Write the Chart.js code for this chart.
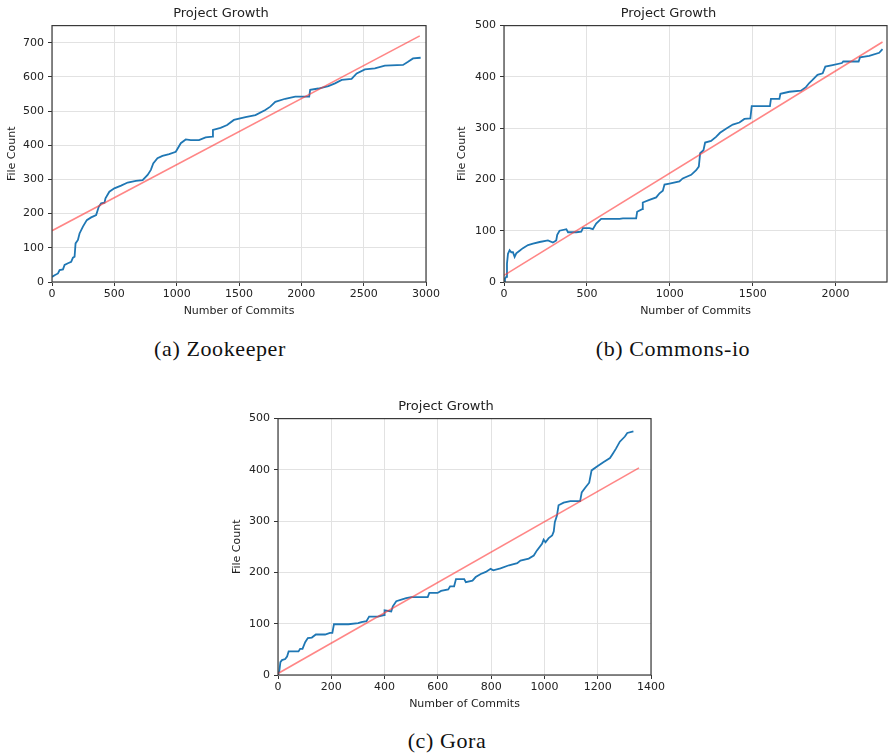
<!DOCTYPE html>
<html>
<head>
<meta charset="utf-8">
<script src="https://cdn.jsdelivr.net/npm/chart.js@4"></script>
<style>
body { margin: 0; background: #fff; width: 888px; height: 753px; position: relative; overflow: hidden; }
canvas { position: absolute; }
.cap { position: absolute; width: 300px; text-align: center; font-family: "Liberation Serif", serif; font-size: 22px; color: #111; letter-spacing: 0.6px; }
</style>
</head>
<body>
<canvas id="zk" width="442" height="320" style="left:0px;top:0px"></canvas>
<canvas id="ci" width="438" height="320" style="left:450px;top:0px"></canvas>
<canvas id="go" width="442" height="320" style="left:225px;top:393px"></canvas>
<div class="cap" style="left:70px;top:336px">(a) Zookeeper</div>
<div class="cap" style="left:523px;top:336px">(b) Commons-io</div>
<div class="cap" style="left:297px;top:728px">(c) Gora</div>
<script>
// Zookeeper
var zkX = [0, 21, 48, 61, 88, 101, 128, 154, 168, 181, 189, 208, 221, 248, 279, 314, 354, 375, 394, 421, 429, 460, 500, 554, 607, 673, 727, 767, 793, 812, 846, 886, 940, 993, 1033, 1073, 1113, 1179, 1232, 1286, 1291, 1352, 1405, 1459, 1552, 1632, 1711, 1751, 1791, 1871, 1951, 2063, 2071, 2137, 2217, 2270, 2324, 2403, 2444, 2510, 2590, 2670, 2816, 2856, 2896, 2957];
var zkY = [15, 20, 25, 35, 37, 50, 55, 59, 71, 74, 113, 123, 142, 162, 181, 189, 196, 220, 230, 232, 245, 264, 274, 282, 291, 296, 298, 313, 328, 347, 362, 369, 374, 381, 406, 417, 415, 415, 423, 425, 445, 451, 459, 474, 482, 488, 503, 513, 527, 536, 542, 542, 562, 566, 573, 581, 591, 594, 610, 622, 625, 633, 635, 644, 654, 656];
var zkFitX = [0, 2950];
var zkFitY = [150, 720];
var zkXTicks = [0, 500, 1000, 1500, 2000, 2500, 3000];
var zkYTicks = [0, 100, 200, 300, 400, 500, 600, 700];

// Commons-io
var ciX = [0, 6, 14, 18, 24, 34, 44, 54, 64, 74, 94, 114, 145, 175, 215, 265, 295, 315, 321, 335, 376, 386, 436, 466, 476, 516, 536, 556, 586, 697, 717, 797, 803, 833, 837, 877, 918, 938, 958, 968, 998, 1058, 1078, 1129, 1159, 1175, 1183, 1203, 1213, 1249, 1279, 1303, 1339, 1380, 1420, 1450, 1486, 1494, 1604, 1610, 1661, 1667, 1721, 1791, 1821, 1841, 1861, 1891, 1922, 1938, 1982, 2038, 2046, 2139, 2147, 2203, 2263, 2283];
var ciY = [0, 7, 10, 36, 55, 62, 58, 58, 49, 56, 61, 66, 72, 75, 78, 81, 77, 81, 92, 100, 103, 97, 97, 98, 105, 105, 103, 114, 123, 123, 124, 124, 137, 142, 155, 160, 165, 173, 178, 190, 192, 196, 202, 209, 218, 225, 251, 257, 272, 275, 283, 291, 299, 307, 311, 318, 319, 343, 343, 357, 357, 367, 371, 373, 380, 388, 394, 404, 407, 420, 423, 427, 430, 430, 438, 441, 447, 454];
var ciFitX = [0, 2283];
var ciFitY = [13, 468];
var ciXTicks = [0, 500, 1000, 1500, 2000];
var ciYTicks = [0, 100, 200, 300, 400, 500];

// Gora
var goX = [0, 5, 9, 15, 27, 34, 40, 77, 83, 92, 102, 112, 127, 142, 177, 195, 204, 210, 264, 301, 313, 332, 342, 375, 398, 400, 425, 431, 444, 463, 481, 500, 562, 568, 599, 612, 639, 646, 661, 668, 699, 705, 730, 742, 761, 780, 798, 808, 835, 867, 898, 910, 941, 960, 972, 991, 997, 1004, 1016, 1029, 1035, 1039, 1047, 1053, 1072, 1097, 1134, 1140, 1153, 1168, 1177, 1196, 1221, 1246, 1256, 1268, 1283, 1302, 1311, 1334];
var goY = [0, 8, 25, 29, 31, 36, 46, 46, 51, 51, 64, 72, 73, 79, 79, 82, 82, 99, 99, 101, 103, 105, 114, 114, 117, 126, 124, 134, 144, 147, 150, 152, 152, 160, 160, 164, 167, 173, 173, 187, 187, 181, 184, 191, 197, 201, 207, 204, 208, 214, 218, 223, 227, 233, 243, 256, 264, 259, 267, 272, 280, 298, 311, 331, 336, 339, 339, 356, 365, 375, 399, 406, 415, 423, 431, 441, 455, 465, 472, 475];
var goFitX = [0, 1355];
var goFitY = [3, 404];
var goXTicks = [0, 200, 400, 600, 800, 1000, 1200, 1400];
var goYTicks = [0, 100, 200, 300, 400, 500];

var fam = "'DejaVu Sans', sans-serif";
var textColor = '#222';

// matplotlib style box round the plot
var frame = {
    id: 'frame',
    afterDatasetsDraw(chart) {
        var a = chart.chartArea;
        var ctx = chart.ctx;
        ctx.save();
        ctx.strokeStyle = '#3a3a3a';
        ctx.lineWidth = 1.2;
        ctx.strokeRect(a.left, a.top, a.right - a.left, a.bottom - a.top);
        ctx.restore();
    }
};

function pts(xs, ys) {
    return xs.map(function (x, i) { return { x: x, y: ys[i] }; });
}

function makeChart(id, xs, ys, fitX, fitY, xMax, yMax, xTicks, yTicks, yWidth, padRight) {
    return new Chart(document.getElementById(id), {
        type: 'line',
        data: {
            datasets: [{
                data: pts(fitX, fitY),
                borderColor: 'rgba(255,60,60,0.62)',
                borderWidth: 1.6,
                pointRadius: 0,
                tension: 0
            }, {
                data: pts(xs, ys),
                borderColor: '#1f77b4',
                borderWidth: 1.8,
                pointRadius: 0,
                tension: 0
            }]
        },
        options: {
            responsive: false,
            animation: false,
            layout: { padding: { right: padRight } },
            plugins: {
                legend: { display: false },
                tooltip: { enabled: false },
                title: {
                    display: true,
                    text: 'Project Growth',
                    color: textColor,
                    font: { family: fam, size: 13, weight: 'normal' },
                    padding: { top: 6, bottom: 4 }
                }
            },
            scales: {
                x: {
                    type: 'linear',
                    min: 0,
                    max: xMax,
                    afterBuildTicks: function (s) { s.ticks = xTicks.map(function (v) { return { value: v }; }); },
                    afterFit: function (s) { s.height = 38; },
                    grid: { color: '#e2e2e2', tickColor: '#333', tickLength: 4 },
                    border: { display: false },
                    ticks: { color: textColor, font: { family: fam, size: 11 }, padding: 2, maxRotation: 0, autoSkip: false, callback: function (v) { return String(v); } },
                    title: { display: true, text: 'Number of Commits', color: textColor, font: { family: fam, size: 11 }, padding: { top: 0, bottom: 2 } }
                },
                y: {
                    min: 0,
                    max: yMax,
                    afterBuildTicks: function (s) { s.ticks = yTicks.map(function (v) { return { value: v }; }); },
                    afterFit: function (s) { s.width = yWidth; },
                    grid: { color: '#e2e2e2', tickColor: '#333', tickLength: 4 },
                    border: { display: false },
                    ticks: { color: textColor, font: { family: fam, size: 11 }, padding: 4, callback: function (v) { return String(v); } },
                    title: { display: true, text: 'File Count', color: textColor, font: { family: fam, size: 11 }, padding: { top: 6, bottom: 0 } }
                }
            }
        },
        plugins: [frame]
    });
}

makeChart('zk', zkX, zkY, zkFitX, zkFitY, 3000, 750, zkXTicks, zkYTicks, 52, 0);
makeChart('ci', ciX, ciY, ciFitX, ciFitY, 2310, 500, ciXTicks, ciYTicks, 54, 1);
makeChart('go', goX, goY, goFitX, goFitY, 1400, 500, goXTicks, goYTicks, 53, 0);
</script>
</body>
</html>
